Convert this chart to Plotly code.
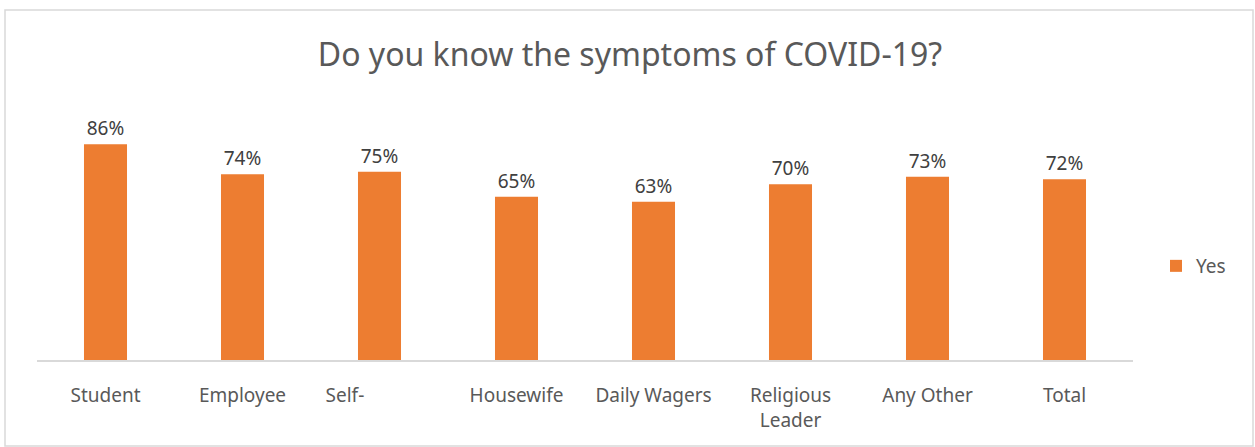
import plotly.graph_objects as go

categories = ["Student", "Employee", "Self-" + "\u00a0" * 14, "Housewife", "Daily Wagers",
              "Religious<br>Leader", "Any Other", "Total"]
yes_values = [86, 74, 75, 65, 63, 70, 73, 72]
value_labels = [f"{v}%" for v in yes_values]

W, H = 1255, 447
L, R, T, B = 37, 122, 109, 87
pw, ph = W - L - R, H - T - B

fig = go.Figure()
fig.add_trace(go.Bar(
    x=categories, y=yes_values, name="Yes",
    marker=dict(color="#ED7D31", line=dict(width=0)),
    text=value_labels, textposition="outside",
    textfont=dict(size=19, color="#404040", family="Noto Sans"),
    cliponaxis=False,
))

fig.update_layout(
    width=W, height=H,
    margin=dict(l=L, r=R, t=T, b=B),
    paper_bgcolor="white", plot_bgcolor="white",
    bargap=0.686,
    showlegend=True,
    title=dict(text="Do you know the symptoms of COVID-19?", x=0.502, xanchor="center",
               y=1 - 55 / H, yanchor="middle",
               font=dict(size=32, color="#595959", family="Noto Sans")),
    legend=dict(x=(1156 - L) / pw, xanchor="left", y=(360 - 266) / ph, yanchor="middle",
                font=dict(size=19, color="#595959", family="Noto Sans"),
                itemwidth=30, bgcolor="rgba(0,0,0,0)"),
    xaxis=dict(showgrid=False, showline=True, linecolor="#D9D9D9", linewidth=2,
               ticks="", ticklabelstandoff=17,
               tickfont=dict(size=19, color="#595959", family="Noto Sans")),
    yaxis=dict(range=[0, 100], visible=False, showgrid=False),
    shapes=[dict(type="rect", xref="paper", yref="paper",
                 x0=(5 - L) / pw, x1=(1253 - L) / pw,
                 y0=(360 - 446) / ph, y1=(360 - 10) / ph,
                 line=dict(color="#D9D9D9", width=1.5), fillcolor="rgba(0,0,0,0)",
                 layer="below")],
)

fig.write_html("out.html", config={"displayModeBar": False},
               post_script="document.body.style.margin='0px';")
